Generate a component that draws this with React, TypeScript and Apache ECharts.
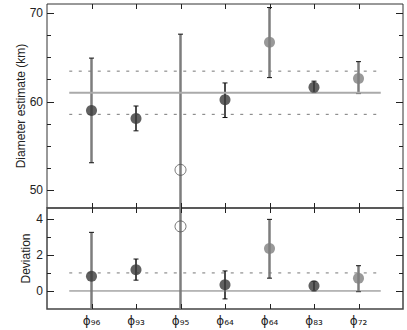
import React, { useEffect, useRef } from "react";
import * as echarts from "echarts";

const subLabels = ["96", "93", "95", "64", "64", "83", "72"];
const positions = [1, 2, 3, 4, 5, 6, 7];
// top panel: diameter estimate (km)
const diameter = [59.0, 58.1, 52.3, 60.2, 66.7, 61.6, 62.6];
const diamLow = [53.1, 56.7, 40.0, 58.2, 62.7, 61.0, 60.9];
const diamHigh = [64.9, 59.5, 67.6, 62.1, 70.6, 62.3, 64.5];
// bottom panel: deviation
const deviation = [0.82, 1.18, 3.58, 0.35, 2.36, 0.29, 0.71];
const devLow = [-1.6, 0.6, -1.6, -0.44, 0.71, 0.0, -0.04];
const devHigh = [3.25, 1.77, 6.0, 1.11, 3.97, 0.53, 1.4];
// 1 = grey thick bar, 0 = black thin bar
const barKind = [1, 0, 1, 0, 1, 0, 1];
// marker kinds
const markerKind = ["dark", "dark", "open", "dark", "light", "dark", "light"];
// reference lines
const meanDiameter = 61.0;
const diamBandHigh = 63.43;
const diamBandLow = 58.56;
const devZero = 0;
const devOne = 1;
const lineStart = 0.5;
const lineEnd = 7.5;
// axis ranges and tick values
const xMin = 0;
const xMax = 8;
const topMin = 48;
const topMax = 71;
const botMin = -1;
const botMax = 4.6;
const topMajor = [50, 60, 70];
const topMinor = [52.5, 55, 57.5, 62.5, 65, 67.5];
const botMajor = [0, 2, 4];
const botMinor = [1, 3];

const FONT = "Liberation Sans";
const SUB_DIGITS = ["₀", "₁", "₂", "₃", "₄", "₅", "₆", "₇", "₈", "₉"];
const toSub = (s: string) => s.split("").map((c) => SUB_DIGITS[Number(c)] || c).join("");

function errorRender(params: any, api: any) {
  const x = api.value(0);
  const lo = api.value(1);
  const hi = api.value(2);
  const kind = api.value(3);
  const cs = params.coordSys;
  const pLo = api.coord([x, lo]);
  const pHi = api.coord([x, hi]);
  const top = Math.max(pHi[1], cs.y);
  const bot = Math.min(pLo[1], cs.y + cs.height);
  const px = pLo[0];
  const color = kind === 1 ? "#7d7d7d" : "#111";
  const width = kind === 1 ? 2.5 : 1.5;
  const children: any[] = [
    { type: "line", shape: { x1: px, y1: top, x2: px, y2: bot }, style: { stroke: color, lineWidth: width } },
  ];
  const hw = 2.5;
  if (pHi[1] >= cs.y) {
    children.push({ type: "line", shape: { x1: px - hw, y1: pHi[1], x2: px + hw, y2: pHi[1] }, style: { stroke: "#111", lineWidth: 1 } });
  }
  if (pLo[1] <= cs.y + cs.height) {
    children.push({ type: "line", shape: { x1: px - hw, y1: pLo[1], x2: px + hw, y2: pLo[1] }, style: { stroke: "#111", lineWidth: 1 } });
  }
  return { type: "group", children };
}

function markerItem(x: number, y: number, kind: string) {
  if (kind === "open") {
    return { value: [x, y], itemStyle: { color: "rgba(0,0,0,0)", borderColor: "#555", borderWidth: 1 } };
  }
  return { value: [x, y], itemStyle: { color: kind === "dark" ? "#3a3a3a" : "#808080", borderWidth: 0 } };
}

// tick marks placed through the chart's own scales (convertToPixel)
function buildTicks(chart: any): any[] {
  const out: any[] = [];
  const style = { stroke: "#222", lineWidth: 1 };
  const panels = [
    { grid: 0, yMin: topMin, yMax: topMax, major: topMajor, minor: topMinor },
    { grid: 1, yMin: botMin, yMax: botMax, major: botMajor, minor: botMinor },
  ];
  panels.forEach((pn) => {
    const tl = chart.convertToPixel({ gridIndex: pn.grid }, [xMin, pn.yMax]);
    const br = chart.convertToPixel({ gridIndex: pn.grid }, [xMax, pn.yMin]);
    if (!tl || !br) return;
    const left = tl[0];
    const right = br[0];
    const top = tl[1];
    const bottom = br[1];
    const yTick = (v: number, len: number) => {
      const p = chart.convertToPixel({ gridIndex: pn.grid }, [xMin, v]);
      const y = Math.round(p[1]) + 0.5;
      out.push({ type: "line", silent: true, z: 50, shape: { x1: left, y1: y, x2: left + len, y2: y }, style: { ...style } });
      out.push({ type: "line", silent: true, z: 50, shape: { x1: right - len, y1: y, x2: right, y2: y }, style: { ...style } });
    };
    pn.major.forEach((v) => yTick(v, 7));
    pn.minor.forEach((v) => yTick(v, 4));
    positions.forEach((v) => {
      const p = chart.convertToPixel({ gridIndex: pn.grid }, [v, pn.yMin]);
      const x = Math.round(p[0]) + 0.5;
      out.push({ type: "line", silent: true, z: 50, shape: { x1: x, y1: top, x2: x, y2: top + 5 }, style: { ...style } });
      out.push({ type: "line", silent: true, z: 50, shape: { x1: x, y1: bottom - 5, x2: x, y2: bottom }, style: { ...style } });
    });
  });
  return out;
}

export default function App() {
  const ref = useRef<HTMLDivElement>(null);
  useEffect(() => {
    if (!ref.current) return;
    const chart = echarts.init(ref.current, undefined, { renderer: "svg" });
    const xAxisOf = (gridIndex: number, labels: boolean) => ({
      type: "value",
      gridIndex,
      position: "bottom",
      min: xMin,
      max: xMax,
      interval: 1,
      axisLine: { show: false, onZero: false },
      splitLine: { show: false },
      axisTick: { show: false },
      axisLabel: labels
        ? {
            show: true,
            margin: 6,
            color: "#222",
            fontSize: 12,
            fontFamily: "DejaVu Sans",
            formatter: (v: number) => {
              const i = Math.round(v) - 1;
              if (i < 0 || i >= subLabels.length) return "";
              return "ϕ" + toSub(subLabels[i]);
            },
          }
        : { show: false },
    });
    const yAxisOf = (gridIndex: number, min: number, max: number, vals: number[], name: string, nameGap: number) => ({
      type: "value",
      gridIndex,
      position: "left",
      min,
      max,
      axisLine: { show: false },
      splitLine: { show: false },
      axisTick: { show: false },
      axisLabel: { show: true, customValues: vals, margin: 4, fontSize: 12, fontFamily: FONT, color: "#222" },
      name,
      nameLocation: "middle",
      nameGap,
      nameMoveOverlap: false,
      nameTextStyle: { fontSize: 12, fontFamily: FONT, color: "#222" },
    });

    const option: any = {
      animation: false,
      backgroundColor: "#fff",
      grid: [
        { left: 47, right: 4, top: 4, height: 204, show: true, borderColor: "#333", borderWidth: 1, backgroundColor: "transparent" },
        { left: 47, right: 4, top: 208, height: 101, show: true, borderColor: "#444", borderWidth: 1.5, backgroundColor: "transparent" },
      ],
      xAxis: [xAxisOf(0, false), xAxisOf(1, true)],
      yAxis: [
        yAxisOf(0, topMin, topMax, topMajor, "Diameter estimate (km)", 20),
        yAxisOf(1, botMin, botMax, botMajor, "Deviation", 15),
      ],
      series: [
        {
          type: "line", xAxisIndex: 0, yAxisIndex: 0, symbol: "none", silent: true,
          data: [[lineStart, meanDiameter], [lineEnd, meanDiameter]],
          lineStyle: { color: "#aaa", width: 2 },
        },
        {
          type: "line", xAxisIndex: 0, yAxisIndex: 0, symbol: "none", silent: true,
          data: [[lineStart, diamBandHigh], [lineEnd, diamBandHigh]],
          lineStyle: { color: "#777", width: 1, type: [3, 6.5] },
        },
        {
          type: "line", xAxisIndex: 0, yAxisIndex: 0, symbol: "none", silent: true,
          data: [[lineStart, diamBandLow], [lineEnd, diamBandLow]],
          lineStyle: { color: "#777", width: 1, type: [3, 6.5] },
        },
        {
          type: "line", xAxisIndex: 1, yAxisIndex: 1, symbol: "none", silent: true,
          data: [[lineStart, devZero], [lineEnd, devZero]],
          lineStyle: { color: "#777", width: 1 },
        },
        {
          type: "line", xAxisIndex: 1, yAxisIndex: 1, symbol: "none", silent: true,
          data: [[lineStart, devOne], [lineEnd, devOne]],
          lineStyle: { color: "#777", width: 1, type: [3, 6.5] },
        },
        {
          type: "custom", xAxisIndex: 0, yAxisIndex: 0, renderItem: errorRender,
          data: positions.map((x, i) => [x, diamLow[i], diamHigh[i], barKind[i]]),
          z: 3,
        },
        {
          type: "custom", xAxisIndex: 1, yAxisIndex: 1, renderItem: errorRender,
          data: positions.map((x, i) => [x, devLow[i], devHigh[i], barKind[i]]),
          z: 3,
        },
        {
          type: "scatter", xAxisIndex: 0, yAxisIndex: 0, symbolSize: 11, z: 4,
          data: positions.map((x, i) => markerItem(x, diameter[i], markerKind[i])),
        },
        {
          type: "scatter", xAxisIndex: 1, yAxisIndex: 1, symbolSize: 11, z: 4,
          data: positions.map((x, i) => markerItem(x, deviation[i], markerKind[i])),
        },
      ],
    };
    chart.setOption(option);
    try {
      chart.setOption({ graphic: buildTicks(chart) });
    } catch (e) {
      // keep the chart even if tick placement fails
    }
    return () => chart.dispose();
  }, []);
  return <div ref={ref} style={{ position: "fixed", left: 0, top: 0, width: 407, height: 330 }} />;
}
